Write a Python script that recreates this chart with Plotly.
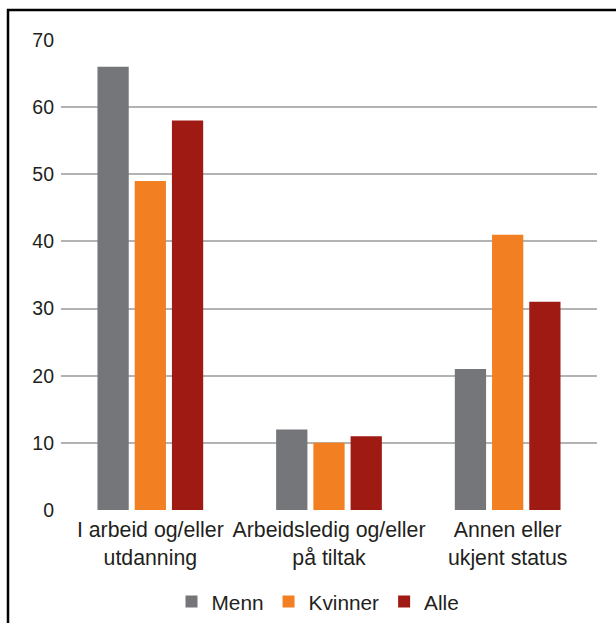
import plotly.graph_objects as go

categories = ["I arbeid og/eller<br>utdanning", "Arbeidsledig og/eller<br>på tiltak", "Annen eller<br>ukjent status"]
menn = [66, 12, 21]
kvinner = [49, 10, 41]
alle = [58, 11, 31]
y_ticks = [0, 10, 20, 30, 40, 50, 60, 70]

series = [("Menn", menn, "#75767a"), ("Kvinner", kvinner, "#f28022"), ("Alle", alle, "#a01a14")]

fig = go.Figure()
for name, vals, color in series:
    fig.add_trace(go.Bar(x=categories, y=vals, name=name, marker_color=color,
                         marker_line_width=0))

W, H = 616, 623
L, R, T, B = 61, 19, 40, 113
pw, ph = W - L - R, H - T - B

def px_x(p):
    return (p - L) / pw

def px_y(p):
    return (H - B - p) / ph

fig.update_layout(
    width=W, height=H,
    margin=dict(l=L, r=R, t=T, b=B, autoexpand=False),
    paper_bgcolor="white", plot_bgcolor="white",
    font=dict(family="Liberation Sans, Arial, sans-serif", color="#231f20", size=20),
    barmode="group", bargap=0.375, bargroupgap=0.16,
    showlegend=True,
    legend=dict(orientation="h", xref="container", x=318 / W, xanchor="center",
                yref="container", y=1 - 602 / H, yanchor="middle",
                font=dict(size=20.8), itemwidth=30, traceorder="normal"),
    xaxis=dict(showgrid=False, showline=False, ticks="", tickfont=dict(size=21.3),
               automargin=False, ticklabelstandoff=5),
    yaxis=dict(range=[0, 70], tickvals=y_ticks, showgrid=True, gridcolor="#b3b3b3",
               gridwidth=1.5, zeroline=False, showline=False, ticks="",
               tickfont=dict(size=19.5), ticklabelstandoff=6, automargin=False),
    shapes=[
        dict(type="line", xref="paper", yref="paper", x0=px_x(8), x1=px_x(8),
             y0=px_y(9), y1=px_y(630), line=dict(color="black", width=2.5)),
        dict(type="line", xref="paper", yref="paper", x0=px_x(7), x1=px_x(630),
             y0=px_y(10), y1=px_y(10), line=dict(color="black", width=2.5)),
    ],
)

fig.write_html("out.html")
